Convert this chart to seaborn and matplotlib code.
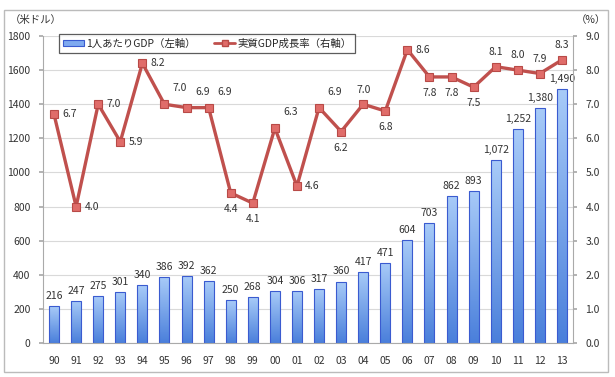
import numpy as np
import pandas as pd
import matplotlib
matplotlib.use("Agg")
import matplotlib.pyplot as plt
import seaborn as sns
from matplotlib.patches import Rectangle
from matplotlib.lines import Line2D
from matplotlib.ticker import MultipleLocator, FixedLocator

years = ["90", "91", "92", "93", "94", "95", "96", "97", "98", "99", "00", "01",
         "02", "03", "04", "05", "06", "07", "08", "09", "10", "11", "12", "13"]
gdp_per_capita = [216, 247, 275, 301, 340, 386, 392, 362, 250, 268, 304, 306,
                  317, 360, 417, 471, 604, 703, 862, 893, 1072, 1252, 1380, 1490]
growth = [6.7, 4.0, 7.0, 5.9, 8.2, 7.0, 6.9, 6.9, 4.4, 4.1, 6.3, 4.6,
          6.9, 6.2, 7.0, 6.8, 8.6, 7.8, 7.8, 7.5, 8.1, 8.0, 7.9, 8.3]
label_bar = "1人あたりGDP（左軸）"
label_line = "実質GDP成長率（右軸）"
left_unit = "（米ドル）"
right_unit = "（%）"
# placement of growth labels: r=right, ar=above-right, a=above, b=below
growth_label_pos = ["r", "r", "r", "r", "r", "ar", "ar", "ar", "b", "b", "ar", "r",
                    "ar", "b", "a", "b", "r", "b", "b", "b", "a", "a", "a", "a"]

sns.set_theme(style="white")
plt.rcParams["font.family"] = ["Noto Sans CJK JP", "DejaVu Sans"]

df = pd.DataFrame({"year": years, "gdp": gdp_per_capita, "growth": growth})

fig = plt.figure(figsize=(6.15, 3.77), dpi=100)
fig.patches.append(Rectangle((4 / 615, 5 / 377), 604 / 615, 362 / 377,
                             transform=fig.transFigure, fill=False,
                             edgecolor="#BBBBBB", linewidth=1.0))
ax = fig.add_axes([43 / 615, 34 / 377, 530 / 615, 307 / 377])

sns.barplot(data=df, x="year", y="gdp", ax=ax, width=0.45, color="#6E9EEB",
            edgecolor="#3A5BD0", linewidth=0.8, zorder=2)

# gradient fill for bars
grad = np.linspace(0, 1, 256).reshape(-1, 1)
cmap = matplotlib.colors.LinearSegmentedColormap.from_list(
    "bg", ["#4A7FDB", "#A8CBF8"])
for p in ax.patches:
    x0, y0 = p.get_x(), p.get_y()
    w, h = p.get_width(), p.get_height()
    im = ax.imshow(grad, extent=[x0, x0 + w, y0, y0 + h], origin="lower",
                   cmap=cmap, aspect="auto", zorder=2.1)
    im.set_clip_path(p)
    p.set_facecolor("none")
    p.set_zorder(2.2)

for i, v in enumerate(gdp_per_capita):
    ax.text(i, v + 30, f"{v:,}", ha="center", va="bottom", fontsize=7.5,
            color="#333333", zorder=5)

ax.set_xlim(-0.5, len(years) - 0.5)
ax.set_ylim(0, 1800)
ax.yaxis.set_major_locator(MultipleLocator(200))
ax.grid(axis="y", color="#D9D9D9", linewidth=0.8, zorder=0)
ax.set_axisbelow(True)
ax.set_xlabel("")
ax.set_ylabel("")
ax.tick_params(axis="both", labelsize=7.5, colors="#333333", length=0, pad=6)
ax.tick_params(axis="x", pad=9)
ax.xaxis.set_minor_locator(FixedLocator(np.arange(-0.5, len(years), 1.0)))
ax.tick_params(axis="x", which="minor", length=3, color="#AAAAAA", direction="out")
ax.tick_params(axis="y", which="major", length=3, color="#AAAAAA", direction="out", left=True)
for s in ["top", "right"]:
    ax.spines[s].set_visible(False)
for s in ["left", "bottom"]:
    ax.spines[s].set_color("#AAAAAA")
    ax.spines[s].set_linewidth(0.8)

ax2 = ax.twinx()
sns.pointplot(data=df, x="year", y="growth", ax=ax2, color="#C0504D",
              markers="s", linestyles="-", markersize=6, linewidth=2.4,
              markeredgecolor="#B84A47", zorder=4)
for ln in ax2.lines:
    ln.set_markerfacecolor("#E06C69")
    ln.set_markeredgewidth(0.8)
ax2.set_xlim(-0.5, len(years) - 0.5)
ax2.set_ylim(0, 9)
ax2.yaxis.set_major_locator(MultipleLocator(1))
ax2.yaxis.set_major_formatter(matplotlib.ticker.FormatStrFormatter("%.1f"))
ax2.set_ylabel("")
ax2.set_xlabel("")
ax2.tick_params(axis="y", labelsize=7.5, colors="#333333", length=3, pad=6,
                direction="out", right=True, color="#AAAAAA")
for s in ["top", "left", "bottom"]:
    ax2.spines[s].set_visible(False)
ax2.spines["right"].set_color("#AAAAAA")
ax2.spines["right"].set_linewidth(0.8)

offsets = {"r": (6, 0, "left", "center"), "ar": (6, 8, "left", "bottom"),
           "a": (0, 7, "center", "bottom"), "b": (0, -8, "center", "top")}
for i, (v, pos) in enumerate(zip(growth, growth_label_pos)):
    dx, dy, ha, va = offsets[pos]
    ax2.annotate(f"{v:.1f}", (i, v), xytext=(dx, dy), textcoords="offset points",
                 ha=ha, va=va, fontsize=7.5, color="#333333", zorder=6)

fig.text(10 / 615, 1 - 20 / 377, left_unit, fontsize=7.5, color="#333333",
         va="center", ha="left")
fig.text(606 / 615, 1 - 20 / 377, right_unit, fontsize=7.5, color="#333333",
         va="center", ha="right")

handles = [Rectangle((0, 0), 1, 1, facecolor="#7FAAF0", edgecolor="#3A5BD0",
                     linewidth=0.8),
           Line2D([0], [0], color="#C0504D", linewidth=2.0, marker="s",
                  markersize=5, markerfacecolor="#E06C69",
                  markeredgecolor="#B84A47")]
leg = ax2.legend(handles, [label_bar, label_line], loc="upper left",
                 bbox_to_anchor=(0.03, 1.005), ncol=2, fontsize=7.5,
                 frameon=True, fancybox=False, edgecolor="#333333",
                 handlelength=2.0, handleheight=0.5, columnspacing=1.8,
                 borderpad=0.4, handletextpad=0.2, borderaxespad=0.0)
leg.get_frame().set_linewidth(0.9)
leg.set_zorder(10)

fig.savefig("out.png", dpi=100)
